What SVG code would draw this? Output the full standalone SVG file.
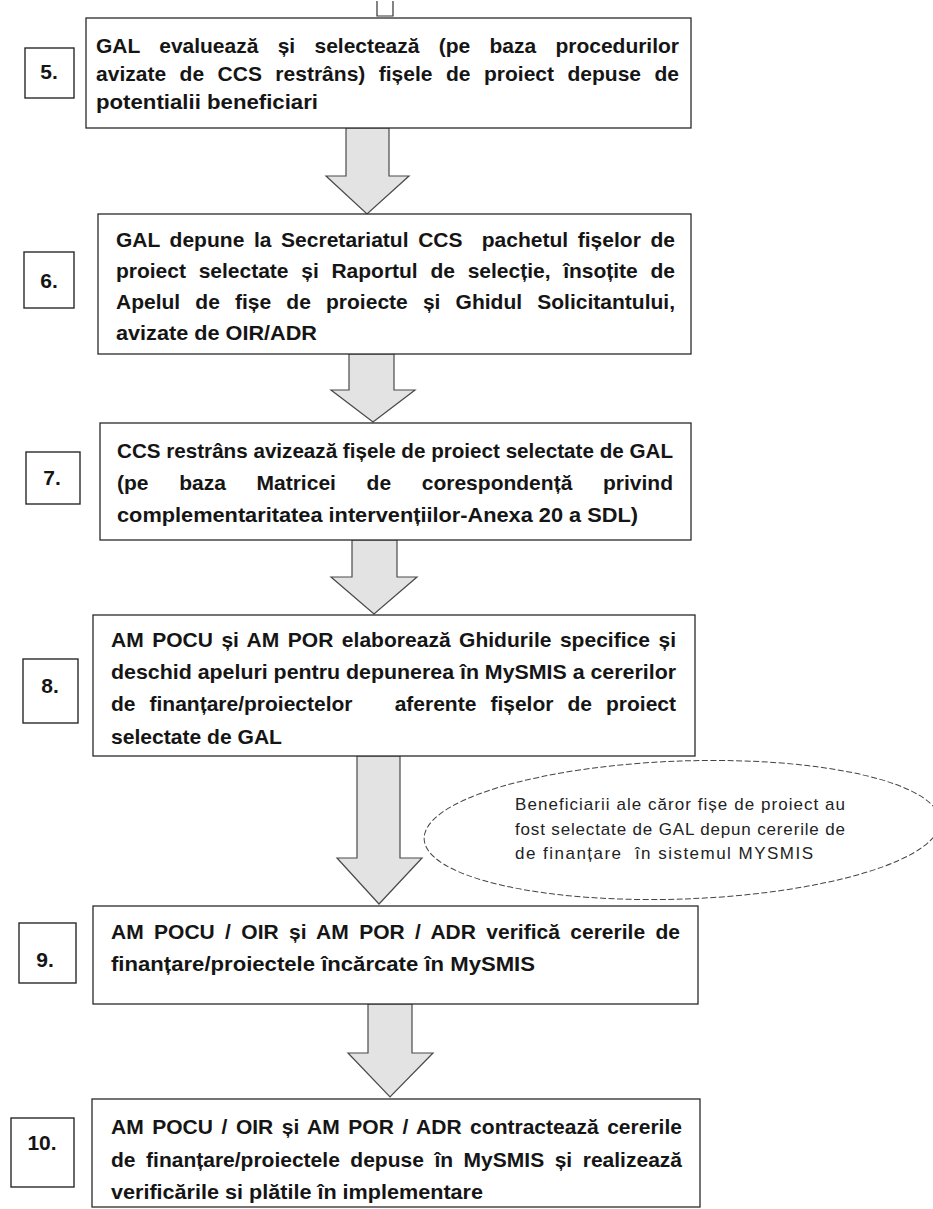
<svg xmlns="http://www.w3.org/2000/svg" width="933" height="1209" viewBox="0 0 933 1209">
<style>
.box{fill:#fff;stroke:#2a2a2a;stroke-width:1.3}
.lbl{fill:#fff;stroke:#2a2a2a;stroke-width:1.4}
.arrow{fill:#e3e3e3;stroke:#4a4a4a;stroke-width:1.2;stroke-linejoin:miter}
.stub{fill:none;stroke:#333;stroke-width:1.2}
.ell{fill:#fff;stroke:#444;stroke-width:1;stroke-dasharray:6 2.5}
.t{font-family:"Liberation Sans",Arial,sans-serif;font-size:21px;font-weight:bold;fill:#151515}
.n{font-family:"Liberation Sans",Arial,sans-serif;font-size:21px;font-weight:bold;fill:#151515;text-anchor:middle}
.e{font-family:"Liberation Sans",Arial,sans-serif;font-size:17px;fill:#222}
</style>
<rect width="933" height="1209" fill="#fff"/>
<g id="connectors">
<path class="stub" d="M377,1 V16 H393 V1"/>
<polygon class="arrow" points="346,128 389,128 389,176 409,176 367,214 326,176 346,176"/>
<polygon class="arrow" points="349,354 394,354 394,390 415,390 373,422 331,390 349,390"/>
<polygon class="arrow" points="352,540 397,540 397,577 417,577 374,614 331,577 352,577"/>
<polygon class="arrow" points="357,756 400,756 400,858 422,858 379,904 337,858 357,858"/>
<polygon class="arrow" points="368,1004 412,1004 412,1053 433,1053 390,1097 348,1053 368,1053"/>
</g>
<g id="step5">
<rect class="box" x="86" y="18" width="605" height="110"/>
<rect class="lbl" x="25" y="48" width="49" height="50"/>
<text class="n" x="49" y="79">5.</text>
<text class="t" x="96" y="53" style="word-spacing:13.5px" textLength="583" lengthAdjust="spacing">GAL evaluează și selectează (pe baza procedurilor</text>
<text class="t" x="96" y="81" style="word-spacing:7.6px" textLength="583" lengthAdjust="spacing">avizate de CCS restrâns) fișele de proiect depuse de</text>
<text class="t" x="96" y="109" textLength="222" lengthAdjust="spacingAndGlyphs">potentialii beneficiari</text>
</g>
<g id="step6">
<rect class="box" x="98" y="214" width="593" height="140"/>
<rect class="lbl" x="24" y="252" width="50" height="56"/>
<text class="n" x="49" y="288">6.</text>
<text class="t" x="116" y="247" xml:space="preserve" style="word-spacing:3.7px" textLength="559" lengthAdjust="spacing">GAL depune la Secretariatul CCS  pachetul fișelor de</text>
<text class="t" x="116" y="278" style="word-spacing:6.9px" textLength="559" lengthAdjust="spacing">proiect selectate și Raportul de selecție, însoțite de</text>
<text class="t" x="116" y="309" style="word-spacing:9.3px" textLength="559" lengthAdjust="spacing">Apelul de fișe de proiecte și Ghidul Solicitantului,</text>
<text class="t" x="116" y="340" textLength="201" lengthAdjust="spacingAndGlyphs">avizate de OIR/ADR</text>
</g>
<g id="step7">
<rect class="box" x="100" y="423" width="591" height="117"/>
<rect class="lbl" x="26" y="452" width="54" height="52"/>
<text class="n" x="52" y="485">7.</text>
<text class="t" x="117" y="458" textLength="556" lengthAdjust="spacingAndGlyphs">CCS restrâns avizează fișele de proiect selectate de GAL</text>
<text class="t" x="117" y="490" style="word-spacing:24.8px" textLength="556" lengthAdjust="spacing">(pe baza Matricei de corespondență privind</text>
<text class="t" x="117" y="522" textLength="521" lengthAdjust="spacingAndGlyphs">complementaritatea intervențiilor-Anexa 20 a SDL)</text>
</g>
<g id="step8">
<rect class="box" x="93" y="615" width="602" height="141"/>
<rect class="lbl" x="23" y="659" width="55" height="64"/>
<text class="n" x="50" y="693">8.</text>
<text class="t" x="111" y="647" style="word-spacing:2.6px" textLength="565" lengthAdjust="spacing">AM POCU și AM POR elaborează Ghidurile specifice și</text>
<text class="t" x="111" y="679" textLength="565" lengthAdjust="spacingAndGlyphs">deschid apeluri pentru depunerea în MySMIS a cererilor</text>
<text class="t" x="111" y="711" xml:space="preserve" style="word-spacing:8.2px" textLength="565" lengthAdjust="spacing">de finanțare/proiectelor   aferente fișelor de proiect</text>
<text class="t" x="111" y="744" textLength="171" lengthAdjust="spacingAndGlyphs">selectate de GAL</text>
</g>
<g id="note">
<ellipse class="ell" cx="682" cy="830" rx="258" ry="69" transform="rotate(-2 682 830)"/>
<text class="e" x="515" y="810" textLength="330" lengthAdjust="spacing">Beneficiarii ale căror fișe de proiect au</text>
<text class="e" x="515" y="835" textLength="330" lengthAdjust="spacing">fost selectate de GAL depun cererile de</text>
<text class="e" x="515" y="859" xml:space="preserve" textLength="298" lengthAdjust="spacing">de finanțare  în sistemul MYSMIS</text>
</g>
<g id="step9">
<rect class="box" x="93" y="906" width="605" height="98"/>
<rect class="lbl" x="19" y="923" width="57" height="60"/>
<text class="n" x="45" y="967">9.</text>
<text class="t" x="111" y="939" style="word-spacing:4.5px" textLength="569" lengthAdjust="spacing">AM POCU / OIR și AM POR / ADR verifică cererile de</text>
<text class="t" x="111" y="971" textLength="424" lengthAdjust="spacingAndGlyphs">finanțare/proiectele încărcate în MySMIS</text>
</g>
<g id="step10">
<rect class="box" x="92" y="1099" width="608" height="108"/>
<rect class="lbl" x="11" y="1118" width="63" height="69"/>
<text class="n" x="42" y="1150">10.</text>
<text class="t" x="111" y="1134" style="word-spacing:2.7px" textLength="571" lengthAdjust="spacing">AM POCU / OIR și AM POR / ADR contractează cererile</text>
<text class="t" x="111" y="1167" style="word-spacing:4.7px" textLength="571" lengthAdjust="spacing">de finanțare/proiectele depuse în MySMIS și realizează</text>
<text class="t" x="111" y="1199" textLength="372" lengthAdjust="spacingAndGlyphs">verificările si plătile în implementare</text>
</g>
</svg>
